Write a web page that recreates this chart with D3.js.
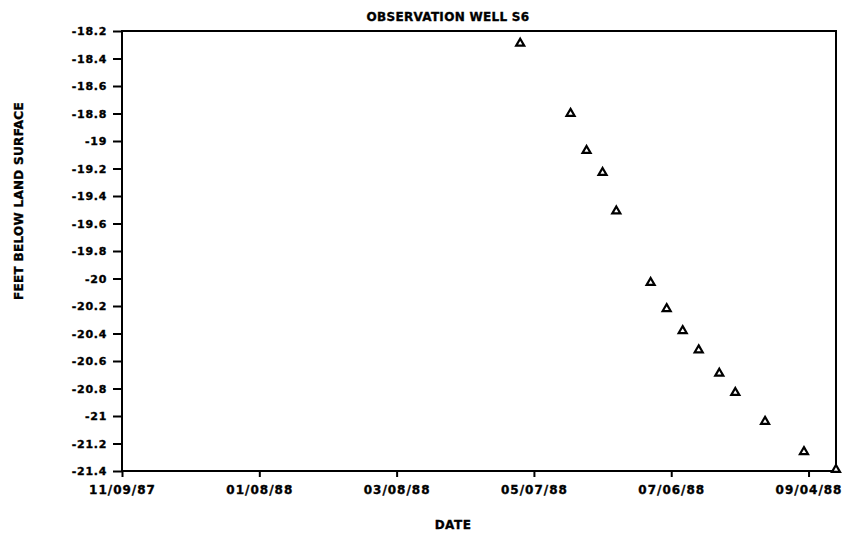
<!DOCTYPE html>
<html>
<head>
<meta charset="utf-8">
<style>
  body { margin: 0; background: #fff; }
  text { font-family: "DejaVu Sans", sans-serif; font-weight: bold; fill: #000; stroke: #000; stroke-width: 0.35px; }
  .axis path { display: none; }
  .axis line { stroke: #000; stroke-width: 2; }
  .axis text { font-family: "DejaVu Sans", sans-serif; font-weight: bold; }
</style>
</head>
<body>
<svg width="854" height="537"></svg>
<script src="https://d3js.org/d3.v7.min.js"></script>
<script>
var dates = ["1988-05-01", "1988-05-23", "1988-05-30", "1988-06-06", "1988-06-12",
             "1988-06-27", "1988-07-04", "1988-07-11", "1988-07-18", "1988-07-27",
             "1988-08-03", "1988-08-16", "1988-09-02", "1988-09-16"];
var levels = [-18.29, -18.80, -19.07, -19.23, -19.51,
              -20.03, -20.22, -20.38, -20.52, -20.69,
              -20.83, -21.04, -21.26, -21.39];

var xTicks = ["1987-11-09", "1988-01-08", "1988-03-08", "1988-05-07", "1988-07-06", "1988-09-04"];
var yTicks = [-18.2, -18.4, -18.6, -18.8, -19, -19.2, -19.4, -19.6, -19.8,
              -20, -20.2, -20.4, -20.6, -20.8, -21, -21.2, -21.4];

var parse = d3.timeParse("%Y-%m-%d");

var margin = {top: 31, right: 18, bottom: 66, left: 122},
    width = 854 - margin.left - margin.right,
    height = 537 - margin.top - margin.bottom;

var x = d3.scaleTime()
    .domain([parse("1987-11-09"), parse("1988-09-16")])
    .range([0, width]);
var y = d3.scaleLinear().domain([-21.4, -18.2]).range([height, 0]);

var svg = d3.select("svg");
var g = svg.append("g")
    .attr("transform", "translate(" + margin.left + "," + margin.top + ")");

// y axis
var yAxis = g.append("g")
    .attr("class", "axis")
    .call(d3.axisLeft(y)
        .tickValues(yTicks)
        .tickSize(9)
        .tickPadding(6)
        .tickFormat(function(d) { return String(+d.toFixed(1)).replace("\u2212", "-"); }));
yAxis.selectAll("text")
    .style("font-size", "11px")
    .style("letter-spacing", "0.7px");

// x axis
var xAxis = g.append("g")
    .attr("class", "axis")
    .attr("transform", "translate(0," + height + ")")
    .call(d3.axisBottom(x)
        .tickValues(xTicks.map(parse))
        .tickSize(6)
        .tickPadding(8)
        .tickFormat(d3.timeFormat("%m/%d/%y")));
xAxis.selectAll("text")
    .style("font-size", "12px")
    .style("letter-spacing", "1px");

// frame
g.append("rect")
    .attr("x", 0).attr("y", 0)
    .attr("width", width).attr("height", height)
    .attr("fill", "none")
    .attr("stroke", "#000")
    .attr("stroke-width", 2);

// points
var pts = dates.map(function(d, i) { return {date: parse(d), v: levels[i]}; });
g.selectAll(".pt")
  .data(pts)
  .enter().append("path")
    .attr("class", "pt")
    .attr("d", d3.symbol().type(d3.symbolTriangle).size(28))
    .attr("transform", function(d) { return "translate(" + x(d.date) + "," + y(d.v) + ")"; })
    .attr("fill", "#fff")
    .attr("stroke", "#000")
    .attr("stroke-width", 2.2);

// titles
svg.append("text")
    .attr("x", 448).attr("y", 21)
    .attr("text-anchor", "middle")
    .style("font-size", "12px")
    .style("letter-spacing", "0.3px")
    .text("OBSERVATION WELL S6");

svg.append("text")
    .attr("x", 453).attr("y", 529)
    .attr("text-anchor", "middle")
    .style("font-size", "12px")
    .style("letter-spacing", "0.5px")
    .text("DATE");

svg.append("text")
    .attr("transform", "translate(23,201) rotate(-90)")
    .attr("text-anchor", "middle")
    .style("font-size", "12px")
    .style("letter-spacing", "0.3px")
    .text("FEET BELOW LAND SURFACE");
</script>
</body>
</html>
